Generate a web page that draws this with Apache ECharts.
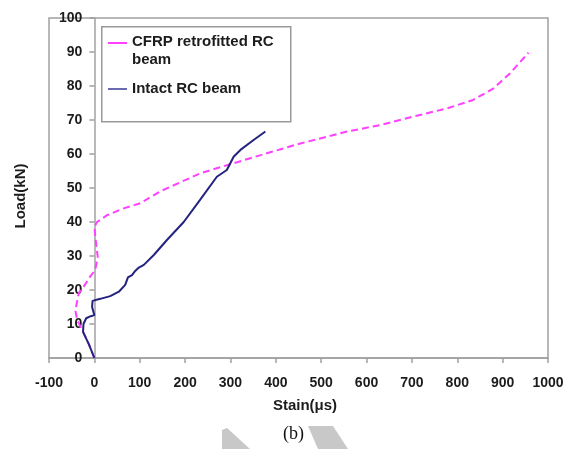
<!DOCTYPE html>
<html>
<head>
<meta charset="utf-8">
<script src="https://cdn.jsdelivr.net/npm/echarts@6/dist/echarts.min.js"></script>
<style>
html,body{margin:0;padding:0;background:#fff;}
#chart{width:567px;height:449px;}
</style>
</head>
<body>
<div id="chart"></div>
<script>
// ---- data ----
const cfrpName = 'CFRP retrofitted RC\nbeam';
const intactName = 'Intact RC beam';
const cfrpStrain = [0, -12, -23.5, -38, -42, -34.5, -23.5, -9, 2, 7.4, 2, 0, 6, 28, 64.5, 101, 145, 233, 307, 380, 454, 557, 630, 703, 777, 835, 880, 916, 957];
const cfrpLoad   = [0, 4, 7.3, 11.2, 14, 19, 21, 24, 25.9, 29.8, 35.7, 38.6, 40, 42, 44, 45.5, 49, 54.3, 57.3, 60.2, 63.1, 66.6, 68.5, 71, 73.4, 75.9, 79.3, 83.7, 89.8];
const intactStrain = [0, -12, -25, -24, -18, -8, 0, -5, -4, 0, 13, 35, 54, 68, 74, 83, 90, 98, 109, 131, 160, 197, 233, 270, 292, 307, 322, 351, 377];
const intactLoad   = [0, 4, 7.7, 10, 11.7, 12.3, 12.6, 15, 16.8, 17.1, 17.4, 18.2, 19.5, 21.5, 23.7, 24.4, 25.6, 26.6, 27.4, 30.3, 34.7, 40, 46.5, 53.3, 55.3, 59.2, 61.2, 64.1, 66.6];
const xMin = -100, xMax = 1000, xStep = 100;
const yMin = 0, yMax = 100, yStep = 10;
const xTitle = 'Stain(μs)';
const yTitle = 'Load(kN)';
const caption = '(b)';

const zip = (a, b) => a.map((v, i) => [v, b[i]]);
const FONT = "'Liberation Sans', Arial, sans-serif";
const TXT = '#1c1c1c';
const AX = '#a0a0a0';

const GRID_L = 49, GRID_R = 19;
const plotW = 567 - GRID_L - GRID_R;
// y axis crosses the x axis at strain 0
const yAxisOffset = -plotW * (0 - xMin) / (xMax - xMin);

const chart = echarts.init(document.getElementById('chart'), null, {renderer: 'canvas'});
chart.setOption({
  animation: false,
  backgroundColor: '#fff',
  grid: {left: GRID_L, right: GRID_R, top: 18, bottom: 91, containLabel: false, outerBoundsMode: 'none',
         show: true, borderColor: AX, borderWidth: 1.5, backgroundColor: 'transparent'},
  xAxis: {
    type: 'value', min: xMin, max: xMax, interval: xStep,
    axisLine: {onZero: false, lineStyle: {color: AX, width: 1.5}},
    axisTick: {show: true, inside: false, length: 5, lineStyle: {color: AX, width: 1.5}},
    axisLabel: {margin: 18, color: TXT, fontFamily: FONT, fontWeight: 'bold', fontSize: 14, formatter: v => String(v)},
    splitLine: {show: false},
    name: xTitle, nameLocation: 'middle', nameGap: 40,
    nameTextStyle: {color: TXT, fontFamily: FONT, fontWeight: 'bold', fontSize: 15, padding: [0, 0, 0, 13]}
  },
  yAxis: {
    type: 'value', min: yMin, max: yMax, interval: yStep, offset: yAxisOffset,
    axisLine: {onZero: false, lineStyle: {color: AX, width: 1.5}},
    axisTick: {show: true, inside: false, length: 5, lineStyle: {color: AX, width: 1.5}},
    axisLabel: {margin: 12, color: TXT, fontFamily: FONT, fontWeight: 'bold', fontSize: 14, formatter: v => String(v)},
    splitLine: {show: false},
    name: yTitle, nameLocation: 'middle', nameGap: 66,
    nameTextStyle: {color: TXT, fontFamily: FONT, fontWeight: 'bold', fontSize: 15, padding: [0, 16, 0, 0]}
  },
  legend: {
    orient: 'vertical', left: 108, top: 33, padding: 0,
    itemWidth: 19, itemHeight: 20, itemGap: 10,
    textStyle: {color: TXT, fontFamily: FONT, fontWeight: 'bold', fontSize: 15, lineHeight: 18},
    itemStyle: {borderWidth: 0},
    data: [
      {name: cfrpName, icon: 'path://M0,0.1h0.1v0.1h-0.1z M0,1h19v2h-19z M0,19.8h0.1v0.1h-0.1z'},
      {name: intactName, icon: 'path://M0,0.1h0.1v0.1h-0.1z M0,9h19v2h-19z M0,19.8h0.1v0.1h-0.1z'}
    ]
  },
  graphic: [
    {type: 'rect', left: 101, top: 26, shape: {width: 189, height: 95}, style: {fill: '#fff', stroke: '#999', lineWidth: 1.5}, z: 1},
    {type: 'polygon', shape: {points: [[222, 430], [227, 428], [250, 449], [222, 449]]}, style: {fill: '#c8c8c8'}, z: 0},
    {type: 'polygon', shape: {points: [[308, 426], [333, 426], [348, 449], [318, 449]]}, style: {fill: '#c8c8c8'}, z: 0},
    {type: 'text', left: 283, top: 425, style: {text: caption, font: "18px 'Liberation Serif', 'Times New Roman', serif", fill: '#111'}, z: 5}
  ],
  series: [
    {
      name: cfrpName, type: 'line', data: zip(cfrpStrain, cfrpLoad),
      showSymbol: false, symbol: 'none', smooth: false,
      lineStyle: {color: '#ff40ff', width: 2, type: [7, 4]},
      itemStyle: {color: '#ff40ff'}
    },
    {
      name: intactName, type: 'line', data: zip(intactStrain, intactLoad),
      showSymbol: false, symbol: 'none', smooth: false,
      lineStyle: {color: '#23237f', width: 2},
      itemStyle: {color: '#6a6ab0'}
    }
  ]
});
</script>
</body>
</html>
